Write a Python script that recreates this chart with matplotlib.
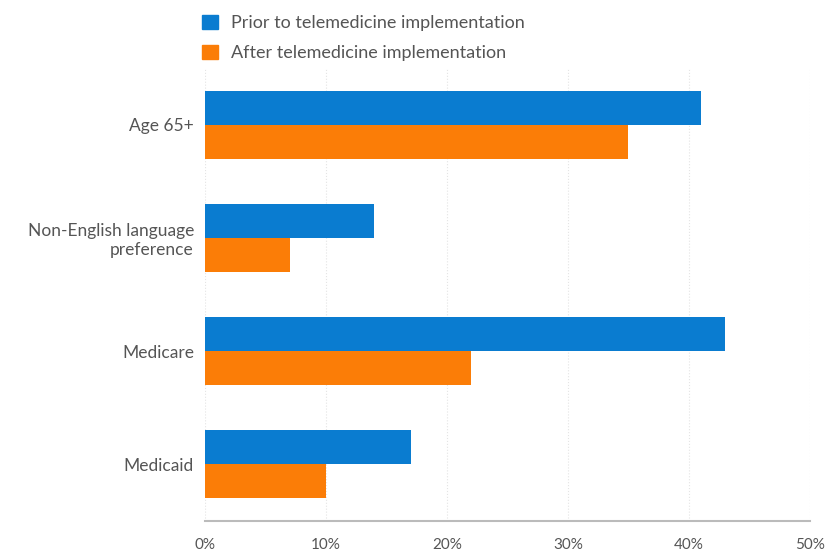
import numpy as np
import matplotlib.pyplot as plt
from matplotlib.patches import Patch

categories = ['Age 65+', 'Non-English language\npreference', 'Medicare', 'Medicaid']
prior = [41, 14, 43, 17]
after = [35, 7, 22, 10]
series_names = ['Prior to telemedicine implementation', 'After telemedicine implementation']

blue = '#0a7cd0'
orange = '#fb7d07'

plt.rcParams['font.family'] = ['Lato', 'DejaVu Sans']

fig = plt.figure(figsize=(8.31, 5.52), dpi=100)
ax = fig.add_axes([0.2467, 0.056, 0.728, 0.821])

y = np.arange(len(categories))
h = 0.3
ax.barh(y - h / 2, prior, height=h, color=blue)
ax.barh(y + h / 2, after, height=h, color=orange)

ax.set_ylim(3.5, -0.5)
ax.set_xlim(0, 50)
ax.set_yticks(y)
ax.set_yticklabels(categories, fontsize=12.5, color='#555555', ha='right')
ax.set_xticks(range(0, 51, 10))
ax.set_xticklabels([f'{v}%' for v in range(0, 51, 10)], fontsize=11, color='#555555')
ax.tick_params(axis='y', length=0, pad=8)
ax.tick_params(axis='x', length=0, pad=12)

ax.grid(axis='x', linestyle=':', color='#e4e4e4', linewidth=0.8)
ax.set_axisbelow(True)
for s in ['top', 'right', 'left']:
    ax.spines[s].set_visible(False)
ax.spines['bottom'].set_color('#bbbbbb')
ax.spines['bottom'].set_linewidth(1.5)

handles = [Patch(color=blue), Patch(color=orange)]
fig.legend(handles, series_names, loc='upper left', bbox_to_anchor=(0.224, 1.003),
           frameon=False, fontsize=13, handlelength=0.85, handleheight=0.85,
           handletextpad=0.75, labelspacing=0.75, labelcolor='#555555')

fig.savefig('out.png', dpi=100)
